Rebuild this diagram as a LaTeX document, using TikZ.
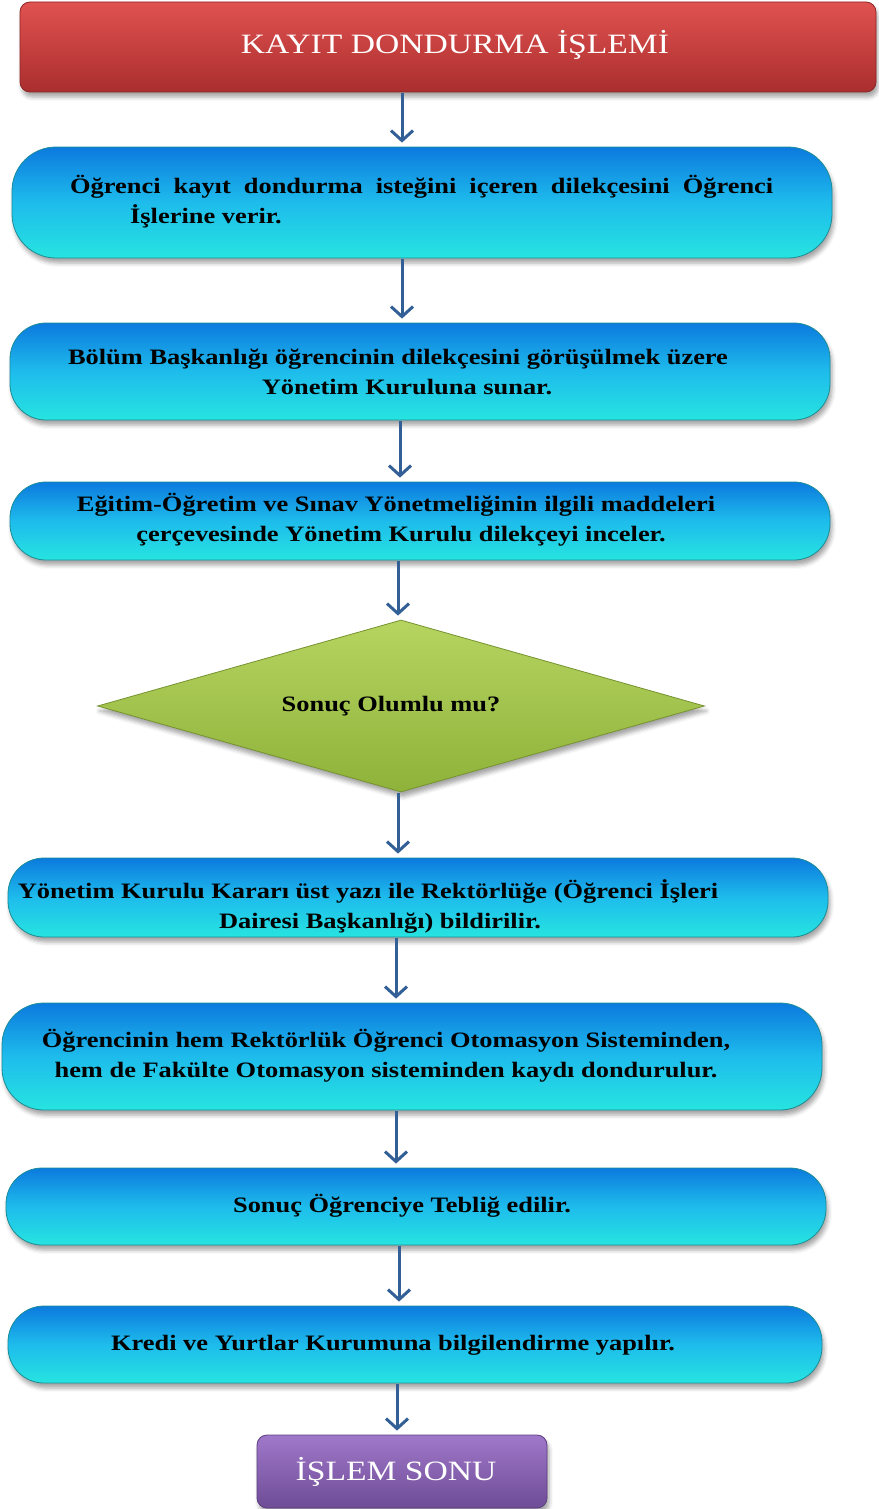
\documentclass[tikz,border=0pt]{standalone}
\usepackage{fontspec}
\setmainfont{Liberation Serif}[FakeStretch=1.2]
\usetikzlibrary{shapes.geometric,arrows.meta,shadows,shadows.blur}

\definecolor{boxtop}{RGB}{12,122,222}
\definecolor{boxmid}{RGB}{30,188,236}
\definecolor{boxbot}{RGB}{38,228,224}
\definecolor{boxedge}{RGB}{28,140,150}
\definecolor{redtop}{RGB}{224,82,80}
\definecolor{redbot}{RGB}{170,46,46}
\definecolor{rededge}{RGB}{140,36,36}
\definecolor{greentop}{RGB}{182,212,96}
\definecolor{greenbot}{RGB}{142,178,58}
\definecolor{greenedge}{RGB}{118,146,48}
\definecolor{purtop}{RGB}{160,120,202}
\definecolor{purbot}{RGB}{110,76,150}
\definecolor{puredge}{RGB}{92,62,128}
\definecolor{arrowblue}{RGB}{50,95,150}

\tikzset{
  softshadow/.style={blur shadow={shadow xshift=2pt, shadow yshift=-5pt,
      shadow blur radius=4pt, shadow opacity=35}},
  flow/.style={rectangle, rounded corners=36pt, minimum width=820pt, inner sep=0pt,
      top color=boxtop, bottom color=boxbot, middle color=boxmid,
      draw=boxedge, line width=0.8pt, softshadow},
  headbox/.style={rectangle, rounded corners=10pt, inner sep=0pt,
      top color=redtop, bottom color=redbot, draw=rededge, line width=0.8pt, softshadow},
  endbox/.style={rectangle, rounded corners=10pt, inner sep=0pt,
      top color=purtop, bottom color=purbot, draw=puredge, line width=0.8pt, softshadow},
  decide/.style={diamond, inner sep=0pt, top color=greentop, bottom color=greenbot,
      draw=greenedge, line width=0.8pt, softshadow},
  txt/.style={inner sep=0pt, font=\bfseries\fontsize{22}{30}\selectfont, align=center},
  headtxt/.style={inner sep=0pt, text=white, font=\fontsize{28}{32}\selectfont},
  arr/.style={draw=arrowblue, line width=3pt, shorten >=4pt, shorten <=1pt,
      -{Straight Barb[length=10pt,width=22pt]}},
}

\begin{document}
\begin{tikzpicture}[x=1pt,y=-1pt]
  \useasboundingbox (0,0) rectangle (878,1509);

  % boxes of the flow
  \node[headbox, minimum width=856pt, minimum height=90pt] (b0) at (448,47) {};
  \node[flow, minimum height=111pt, rounded corners=44pt] (b1) at (422,202.5) {};
  \node[flow, minimum height=97pt] (b2) at (420,371.5) {};
  \node[flow, minimum height=78pt] (b3) at (420,521) {};
  \node[decide, minimum width=607pt, minimum height=172pt] (d) at (401,706) {};
  \node[flow, minimum height=79pt] (b4) at (418,897.5) {};
  \node[flow, minimum height=107pt, rounded corners=42pt] (b5) at (412,1056.5) {};
  \node[flow, minimum height=77pt] (b6) at (416,1206.5) {};
  \node[flow, minimum width=814pt, minimum height=77pt] (b7) at (415,1344.5) {};
  \node[endbox, minimum width=290pt, minimum height=73pt] (e) at (402,1471.5) {};

  % texts
  \node[headtxt] (t0) at (455,45) {KAYIT DONDURMA İŞLEMİ};
  \node[txt, align=left, anchor=west] (t1) at (70,202)
    {\makebox[703pt][s]{Öğrenci kayıt dondurma isteğini içeren dilekçesini Öğrenci}\\
     \hspace*{60pt}İşlerine verir.};
  \node[txt] (t2) at (398,372)
    {Bölüm Başkanlığı öğrencinin dilekçesini görüşülmek üzere\\
     \hspace*{18pt}Yönetim Kuruluna sunar.};
  \node[txt] (t3) at (396,520)
    {Eğitim-Öğretim ve Sınav Yönetmeliğinin ilgili maddeleri\\
     \hspace*{10pt}çerçevesinde Yönetim Kurulu dilekçeyi inceler.};
  \node[txt] (td) at (391,706) {Sonuç Olumlu mu?};
  \node[txt] (t4) at (368,906)
    {Yönetim Kurulu Kararı üst yazı ile Rektörlüğe (Öğrenci İşleri\\
     \hspace*{24pt}Dairesi Başkanlığı) bildirilir.};
  \node[txt] (t5) at (386,1056)
    {Öğrencinin hem Rektörlük Öğrenci Otomasyon Sisteminden,\\
     hem de Fakülte Otomasyon sisteminden kaydı dondurulur.};
  \node[txt] (t6) at (402,1206) {Sonuç Öğrenciye Tebliğ edilir.};
  \node[txt] (t7) at (393,1345) {Kredi ve Yurtlar Kurumuna bilgilendirme yapılır.};
  \node[headtxt] (te) at (396,1472) {İŞLEM SONU};

  % connectors
  \draw[arr] ([xshift=-46pt]b0.south) -- ([xshift=-20pt]b1.north);
  \draw[arr] ([xshift=-20pt]b1.south) -- ([xshift=-18pt]b2.north);
  \draw[arr] ([xshift=-20pt]b2.south) -- ([xshift=-20pt]b3.north);
  \draw[arr] ([xshift=-22pt]b3.south) -- ([xshift=-3pt]d.north);
  \draw[arr] ([xshift=-3pt]d.south) -- ([xshift=-20pt]b4.north);
  \draw[arr] ([xshift=-22pt]b4.south) -- ([xshift=-16pt]b5.north);
  \draw[arr] ([xshift=-16pt]b5.south) -- ([xshift=-20pt]b6.north);
  \draw[arr] ([xshift=-17pt]b6.south) -- ([xshift=-16pt]b7.north);
  \draw[arr] ([xshift=-18pt]b7.south) -- ([xshift=-5pt]e.north);
\end{tikzpicture}
\end{document}
